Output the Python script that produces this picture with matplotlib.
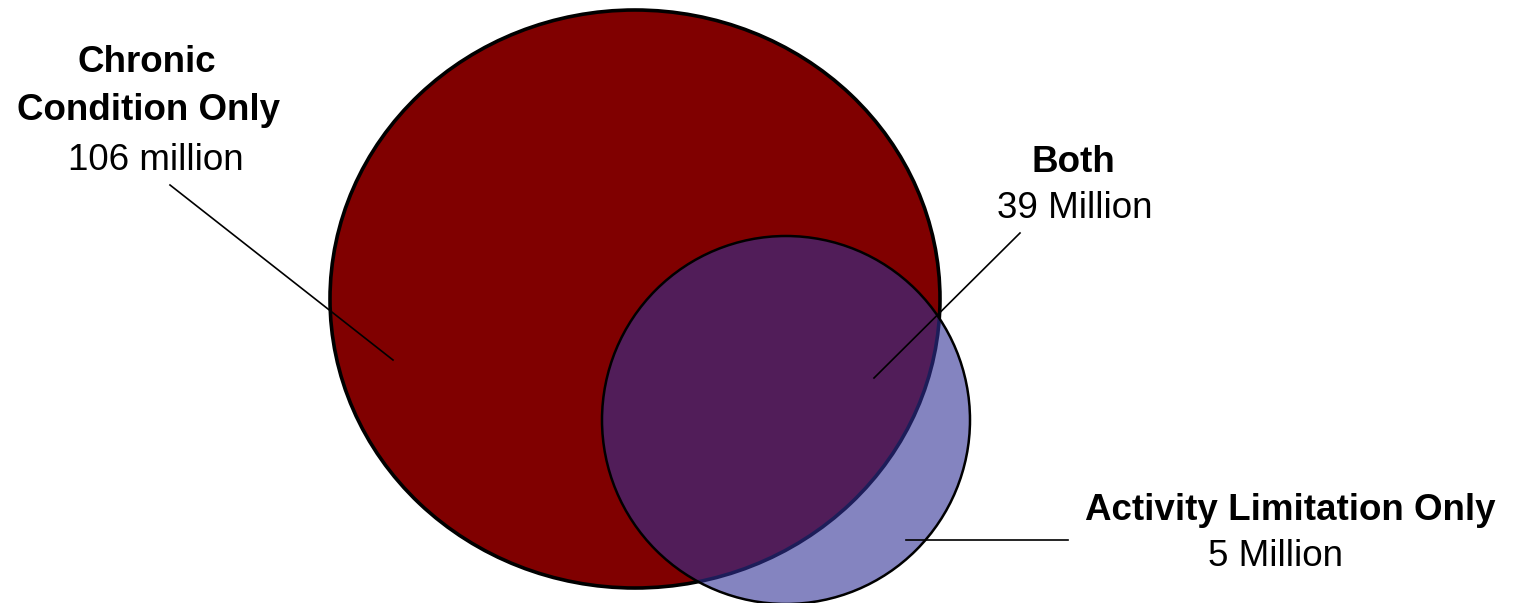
import matplotlib
matplotlib.use("Agg")
import matplotlib.pyplot as plt
from matplotlib.patches import Ellipse

plt.rcParams['font.family'] = ['Liberation Sans', 'DejaVu Sans']

# Data
region_titles = [["Chronic", "Condition Only"], ["Both"], ["Activity Limitation Only"]]
region_values = ["106 million", "39 Million", "5 Million"]

W, H = 1518, 603
fig = plt.figure(figsize=(W / 100, H / 100), dpi=100)
ax = fig.add_axes([0, 0, 1, 1])
ax.set_xlim(0, W)
ax.set_ylim(H, 0)
ax.axis('off')

# Big circle: chronic condition
big = Ellipse((635, 299), 610, 578, facecolor='#800000', edgecolor='black', lw=2.6, zorder=1)
ax.add_patch(big)
# Small circle: activity limitation (translucent)
small = Ellipse((786, 420), 368, 368, facecolor='#323296', alpha=0.6, edgecolor='none', zorder=2)
ax.add_patch(small)
small_edge = Ellipse((786, 420), 368, 368, facecolor='none', edgecolor='black', lw=1.8, zorder=3)
ax.add_patch(small_edge)

# Leader lines
ax.plot([170, 393], [185, 360], color='black', lw=1.2, zorder=4)
ax.plot([1020, 874], [233, 378], color='black', lw=1.2, zorder=4)
ax.plot([906, 1068], [540, 540], color='black', lw=1.2, zorder=4)

fs = 26.5
# Chronic label
ax.text(147, 62, region_titles[0][0], ha='center', va='center', fontsize=fs, fontweight='bold')
ax.text(149, 110, region_titles[0][1], ha='center', va='center', fontsize=fs, fontweight='bold')
ax.text(156, 160, region_values[0], ha='center', va='center', fontsize=fs)
# Both label
ax.text(1073, 162, region_titles[1][0], ha='center', va='center', fontsize=fs, fontweight='bold')
ax.text(1075, 209, region_values[1], ha='center', va='center', fontsize=fs)
# Activity label
ax.text(1290, 510, region_titles[2][0], ha='center', va='center', fontsize=fs, fontweight='bold')
ax.text(1275, 557, region_values[2], ha='center', va='center', fontsize=fs)

fig.savefig("out.png", dpi=100, facecolor='white')
